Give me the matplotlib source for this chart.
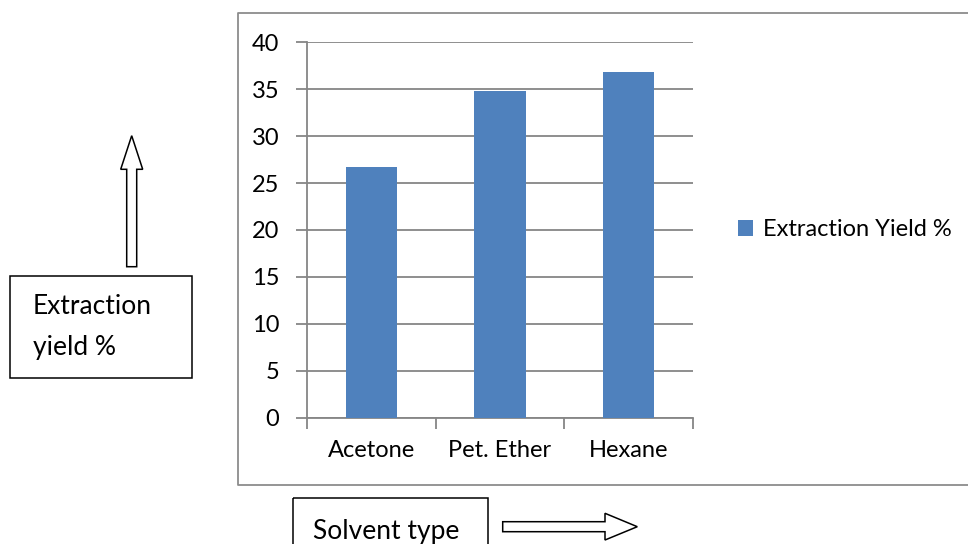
import matplotlib

matplotlib.use("Agg")
import matplotlib.pyplot as plt
from matplotlib.patches import Polygon, Rectangle

solvents = ["Acetone", "Pet. Ether", "Hexane"]
yield_pct = [26.7, 34.8, 36.8]
y_ticks = [0, 5, 10, 15, 20, 25, 30, 35, 40]

BAR = "#4f81bd"
GRID = "#868686"
W, H = 968, 544

plt.rcParams.update({"font.family": ["Lato", "DejaVu Sans"], "font.size": 17})

fig = plt.figure(figsize=(W / 100, H / 100), dpi=100)

# overlay in pixel coords for the frame, boxes and arrows
ov = fig.add_axes([0, 0, 1, 1], zorder=0)
ov.set_xlim(0, W)
ov.set_ylim(H, 0)
ov.axis("off")

# chart frame (open on the right)
ov.plot([W, 237.5, 237.5, W], [12.5, 12.5, 484.5, 484.5], color="#8c8c8c", lw=1.3)

# y label box + up arrow
ov.add_patch(Rectangle((10, 276), 182, 102, fill=False, ec="black", lw=1.1))
ov.text(33, 307, "Extraction", fontsize=19, va="center", ha="left")
ov.text(33, 347, "yield %", fontsize=19, va="center", ha="left")
ov.add_patch(Polygon([(126.7, 266.7), (126.7, 169.3), (120.7, 169.3), (131.7, 135.7),
                      (142.7, 169.3), (136.7, 169.3), (136.7, 266.7)],
                     closed=True, fill=False, ec="black", lw=1.1))

# x label box + right arrow
ov.add_patch(Rectangle((292.7, 498.3), 195.6, 80, fill=False, ec="black", lw=1.1))
ov.text(313, 531, "Solvent type", fontsize=19, va="center", ha="left")
ov.add_patch(Polygon([(502.7, 521.7), (605, 521.7), (605, 513.3), (637.3, 526.7),
                      (605, 540), (605, 531.7), (502.7, 531.7)],
                     closed=True, fill=False, ec="black", lw=1.1))

# bar chart
ax = fig.add_axes([307 / W, (H - 417.7) / H, 386 / W, 375.4 / H], zorder=1)
ax.patch.set_alpha(0)
x = range(len(solvents))
ax.bar(x, yield_pct, width=0.4, color=BAR, zorder=3, label="Extraction Yield %")
ax.set_xlim(-0.5, len(solvents) - 0.5)
ax.set_ylim(0, 40)
ax.set_yticks(y_ticks)
ax.yaxis.grid(True, color=GRID, lw=1.3, zorder=0)
ax.set_xticks(list(x))
ax.set_xticklabels(solvents)
ax.set_xticks([i - 0.5 for i in range(len(solvents) + 1)], minor=True)
ax.tick_params(axis="x", which="major", length=0, pad=16)
ax.tick_params(axis="x", which="minor", length=8, width=1.3, color=GRID)
ax.tick_params(axis="y", length=8, width=1.3, color=GRID, pad=12)
for s in ("top", "right"):
    ax.spines[s].set_visible(False)
for s in ("left", "bottom"):
    ax.spines[s].set_color(GRID)
    ax.spines[s].set_linewidth(1.3)

ax.legend(loc="center left", bbox_to_anchor=(1.062, 0.5), frameon=False,
          handlelength=0.64, handleheight=0.64, handletextpad=0.4, fontsize=17)

fig.savefig("out.png", dpi=100)
